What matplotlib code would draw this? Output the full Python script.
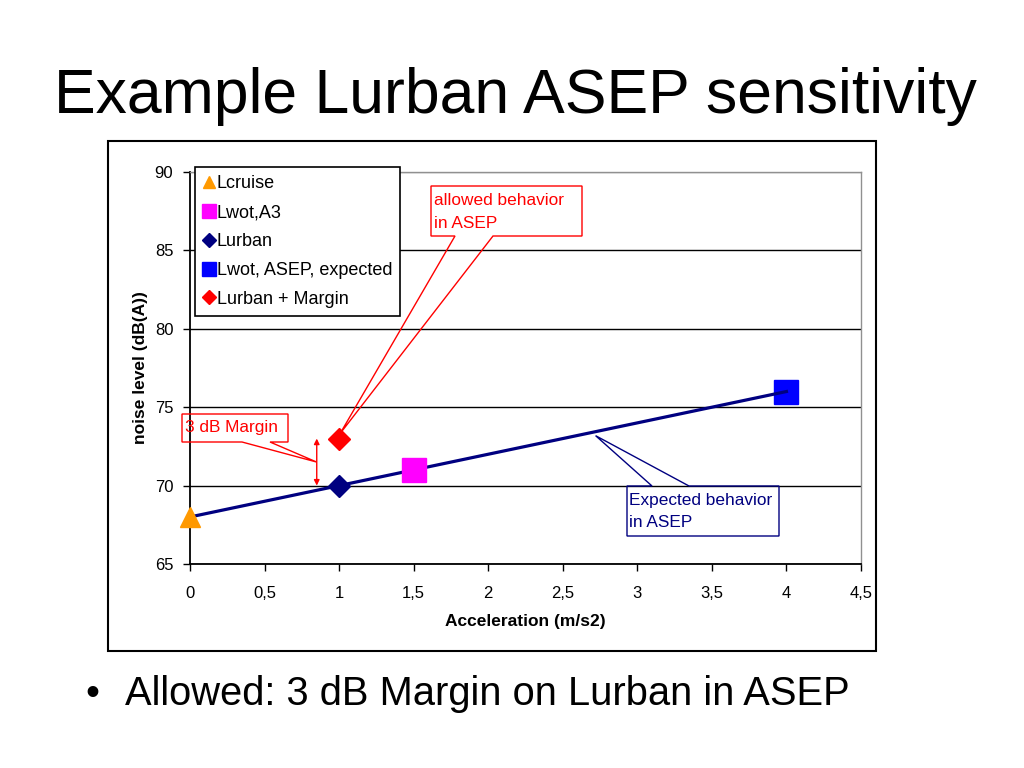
"""Example Lurban ASEP sensitivity chart."""
import matplotlib
matplotlib.use("Agg")
import matplotlib.pyplot as plt
from matplotlib.patches import Polygon, Rectangle
import numpy as np

# data
accel_cruise = 0.0
L_cruise = 68
accel_a3 = 1.5
L_wot_a3 = 71
accel_urban = 1.0
L_urban = 70
accel_asep = 4.0
L_wot_asep = 76
margin = 3
margin_arrow_x = 0.85

expected_x = [accel_cruise, accel_urban, accel_asep]
expected_y = [L_cruise, L_urban, L_wot_asep]

x_ticks = [0, 0.5, 1, 1.5, 2, 2.5, 3, 3.5, 4, 4.5]
x_tick_labels = ['0', '0,5', '1', '1,5', '2', '2,5', '3', '3,5', '4', '4,5']
y_ticks = [65, 70, 75, 80, 85, 90]

W, H = 1024, 768
plt.rcParams['font.family'] = ['Liberation Sans', 'DejaVu Sans']

fig = plt.figure(figsize=(W / 100, H / 100), dpi=100)
fig.patch.set_facecolor('white')


def px(x, y):
    """Pixel position (from top-left) to figure fraction."""
    return (x / W, 1 - y / H)


# plot area
ax = fig.add_axes([190 / W, 1 - 564 / H, (861 - 190) / W, (564 - 172) / H])
ax.set_xlim(0, 4.5)
ax.set_ylim(65, 90)
ax.set_xticks(x_ticks)
ax.set_xticklabels(x_tick_labels)
ax.set_yticks(y_ticks)
ax.tick_params(direction='out', length=5, width=1, labelsize=12, colors='black')
ax.tick_params(axis='x', pad=11)
ax.tick_params(axis='y', pad=7)

ax.yaxis.grid(True, color='black', linewidth=1)
ax.set_axisbelow(True)
ax.get_ygridlines()[-1].set_color('#909090')
for side in ['top', 'right']:
    ax.spines[side].set_color('#909090')
    ax.spines[side].set_linewidth(1)
for side in ['left', 'bottom']:
    ax.spines[side].set_linewidth(1.3)

# expected behaviour line and points
ax.plot(expected_x, expected_y, color='#000080', linewidth=2.3, zorder=3)
ax.plot(accel_cruise, L_cruise, '^', color='#FF9900', markersize=14,
        label='Lcruise', zorder=4, clip_on=False)
ax.plot(accel_a3, L_wot_a3, 's', color='#FF00FF', markersize=17,
        label='Lwot,A3', zorder=4)
ax.plot(accel_urban, L_urban, 'D', color='#000080', markersize=11.5,
        label='Lurban', zorder=4)
ax.plot(accel_asep, L_wot_asep, 's', color='#0000FF', markersize=17,
        label='Lwot, ASEP, expected', zorder=2)
ax.plot(accel_urban, L_urban + margin, 'D', color='#FF0000', markersize=11.5,
        label='Lurban + Margin', zorder=4)

# 3 dB margin arrow
ax.annotate('', xy=(margin_arrow_x, L_urban + margin), xytext=(margin_arrow_x, L_urban),
            arrowprops=dict(arrowstyle='<|-|>', color='#FF0000', lw=1,
                            mutation_scale=8, shrinkA=0, shrinkB=0), zorder=5)

ax.set_ylabel('noise level (dB(A))', fontsize=12.5, fontweight='bold')
ax.set_xlabel('Acceleration (m/s2)', fontsize=12.5, fontweight='bold')
ax.yaxis.set_label_coords(-0.062, 0.5)
ax.xaxis.set_label_coords(0.5, -0.128)

leg = ax.legend(loc='upper left', bbox_to_anchor=px(195, 167),
                bbox_transform=fig.transFigure, borderaxespad=0,
                fontsize=13, markerscale=0.6, numpoints=1,
                handlelength=0.6, handletextpad=0.15, borderpad=0.45,
                labelspacing=0.66, fancybox=False, framealpha=1)
leg.get_frame().set_edgecolor('black')
leg.get_frame().set_linewidth(1.2)


def data_to_fig(x, y, dx=0, dy=0):
    disp = ax.transData.transform((x, y))
    fx, fy = fig.transFigure.inverted().transform(disp)
    return (fx + dx / W, fy - dy / H)


def callout(box, base1, base2, tip, color, wedge='bottom'):
    left, top, right, bottom = box
    tl, tr, br, bl = px(left, top), px(right, top), px(right, bottom), px(left, bottom)
    b1, b2 = px(*base1), px(*base2)
    if wedge == 'bottom':
        verts = [tl, tr, br, b2, tip, b1, bl]
    else:
        verts = [tl, b1, tip, b2, tr, br, bl]
    fig.add_artist(Polygon(verts, closed=True, facecolor='none', edgecolor=color,
                           linewidth=1, transform=fig.transFigure, zorder=5))


# callouts
callout((431, 186, 582, 236), (455, 236), (493, 236),
        data_to_fig(accel_urban, L_urban + margin, 1, -5), '#FF0000')
fig.text(*px(434, 205), 'allowed behavior', color='#FF0000', fontsize=12.4, va='baseline')
fig.text(*px(434, 228), 'in ASEP', color='#FF0000', fontsize=12.4, va='baseline')

callout((182, 414, 288, 442), (242, 442), (270, 442),
        data_to_fig(margin_arrow_x, L_urban + margin / 2), '#FF0000')
fig.text(*px(185, 432), '3 dB Margin', color='#FF0000', fontsize=12.4, va='baseline')

tip_x = 2.72
callout((627, 486, 779, 536), (652, 486), (689, 486),
        data_to_fig(tip_x, np.interp(tip_x, expected_x, expected_y), 0, 4),
        '#000080', wedge='top')
fig.text(*px(629, 505), 'Expected behavior', color='#000080', fontsize=12.4, va='baseline')
fig.text(*px(629, 527), 'in ASEP', color='#000080', fontsize=12.4, va='baseline')

# chart frame
fig.add_artist(Rectangle(px(108, 651), 768 / W, 510 / H, fill=False,
                         edgecolor='black', linewidth=1.5, transform=fig.transFigure))

# slide title and bullet
fig.text(*px(515, 113), 'Example Lurban ASEP sensitivity', fontsize=45,
         ha='center', va='baseline')
fig.text(*px(92, 705), '\u2022', fontsize=28.7, ha='center', va='baseline')
fig.text(*px(125, 705), 'Allowed: 3 dB Margin on Lurban in ASEP', fontsize=28.7,
         ha='left', va='baseline')

fig.savefig('out.png', dpi=100)
